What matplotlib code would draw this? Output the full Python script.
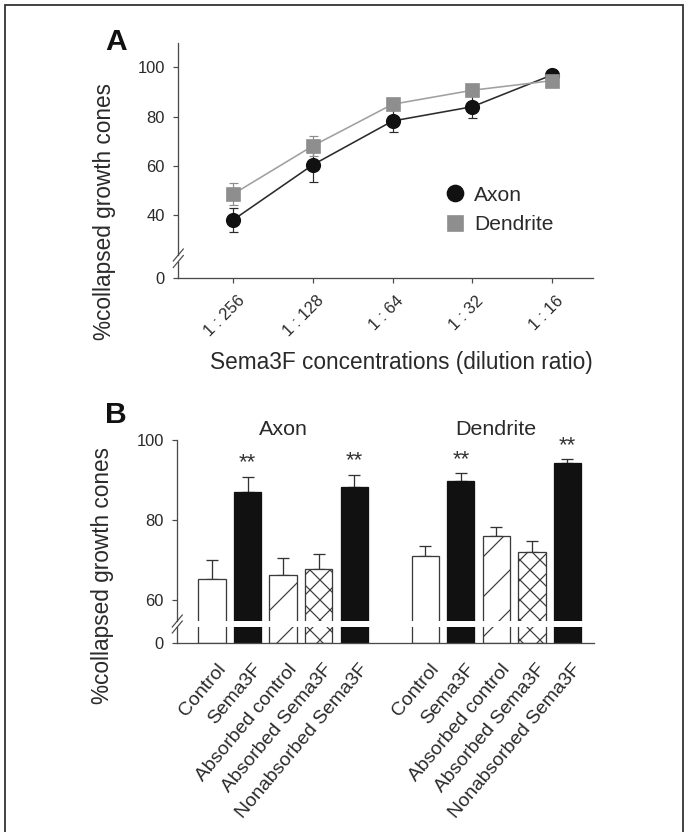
import matplotlib
matplotlib.use('Agg')
import matplotlib.pyplot as plt
import matplotlib.transforms as mtransforms
from matplotlib.lines import Line2D
from matplotlib.patches import Rectangle
import numpy as np

# panel A: collapse vs Sema3F dilution
dilutions = ['1 : 256', '1 : 128', '1 : 64', '1 : 32', '1 : 16']
axon_mean = [38.0, 60.4, 78.2, 84.0, 96.9]
axon_err = [4.8, 7.0, 4.6, 4.7, 1.0]
dend_mean = [48.5, 68.1, 85.0, 90.7, 94.6]
dend_err = [4.4, 4.1, 2.0, 2.0, 1.0]

# panel B: absorption experiment
conditions = ['Control', 'Sema3F', 'Absorbed control', 'Absorbed Sema3F', 'Nonabsorbed Sema3F']
groups = ['Axon', 'Dendrite']
axon_bar = [65.25, 87.1, 66.25, 67.75, 88.2]
axon_bar_err = [4.65, 3.7, 4.35, 3.85, 3.05]
dend_bar = [71.0, 89.8, 76.1, 71.9, 94.2]
dend_bar_err = [2.6, 1.9, 2.15, 2.8, 1.0]
significant = [False, True, False, False, True]

DPI = 120
W, H = 687, 832


def pt(v):
    # pixels -> points
    return v * 72 / DPI


def fx(x):
    return x / W


def fy(y):
    return 1 - y / H


def add_ax(l, t, r, b):
    return fig.add_axes([fx(l), fy(b), (r - l) / W, (b - t) / H])


plt.rcParams['font.family'] = ['Liberation Sans', 'DejaVu Sans']
plt.rcParams['hatch.linewidth'] = pt(1.2)
TXT = '#2a2a2a'
SPINE = '#4a4a4a'

fig = plt.figure(figsize=(W / DPI, H / DPI), dpi=DPI)


def style_axes(ax, bottom):
    for s in ['top', 'right']:
        ax.spines[s].set_visible(False)
    if not bottom:
        ax.spines['bottom'].set_visible(False)
        ax.tick_params(axis='x', length=0, labelbottom=False)
    for s in ['left', 'bottom']:
        ax.spines[s].set_color(SPINE)
        ax.spines[s].set_linewidth(pt(1.3))
    ax.tick_params(axis='y', length=pt(5), width=pt(1.2), color=SPINE,
                   pad=pt(8.5), labelsize=pt(16.5), labelcolor=TXT)
    ax.patch.set_alpha(0)


def break_marks(xs, y1, y2):
    for yc in (y1, y2):
        fig.add_artist(Line2D([fx(xs - 5), fx(xs + 5)], [fy(yc + 6), fy(yc - 6)],
                              transform=fig.transFigure, color=SPINE, lw=pt(1.2)))


# ---------------- panel A ----------------
xa = np.arange(len(dilutions))
a_up = add_ax(178.3, 43.3, 593.3, 255)
a_lo = add_ax(178.3, 261.7, 593.3, 278.3)
for ax in (a_up, a_lo):
    ax.set_xlim(-0.69, 4.52)
a_up.set_ylim(23.7, 109.8)
a_lo.set_ylim(0, 6.75)
style_axes(a_up, False)
style_axes(a_lo, True)
a_up.set_yticks([40, 60, 80, 100])
a_lo.set_yticks([0])

a_up.errorbar(xa, axon_mean, yerr=axon_err, color='#2b2b2b', lw=pt(1.6),
              marker='o', ms=pt(13.5), mfc='#111111', mec='#111111',
              ecolor='#2b2b2b', elinewidth=pt(1.2), capsize=pt(4.5), capthick=pt(1.2),
              clip_on=False, zorder=3)
a_up.errorbar(xa, dend_mean, yerr=dend_err, color='#a0a0a0', lw=pt(1.6),
              marker='s', ms=pt(13), mfc='#8e8e8e', mec='#8e8e8e',
              ecolor='#8e8e8e', elinewidth=pt(1.2), capsize=pt(4.5), capthick=pt(1.2),
              clip_on=False, zorder=4)

a_lo.set_xticks(xa)
a_lo.set_xticklabels(dilutions, rotation=45, ha='right', va='center',
                     rotation_mode='anchor')
a_lo.tick_params(axis='x', length=pt(5), width=pt(1.2), color=SPINE,
                 pad=pt(15), labelsize=pt(16.5), labelcolor=TXT)
shift = mtransforms.ScaledTranslation(9 / DPI, 0, fig.dpi_scale_trans)
for lab in a_lo.get_xticklabels():
    lab.set_transform(lab.get_transform() + shift)

a_up.set_ylabel('%collapsed growth cones', fontsize=pt(22.6), color=TXT)
a_up.yaxis.set_label_coords(fx(116), fy(211.5), transform=fig.transFigure)
a_lo.set_xlabel('Sema3F concentrations (dilution ratio)', fontsize=pt(22.6),
                color=TXT, va='center')
a_lo.xaxis.set_label_coords(fx(401), fy(362), transform=fig.transFigure)

handles = [Line2D([], [], ls='none', marker='o', ms=pt(16), color='#111111'),
           Line2D([], [], ls='none', marker='s', ms=pt(15), color='#8e8e8e')]
leg = a_up.legend(handles, ['Axon', 'Dendrite'], loc='center left',
                  bbox_to_anchor=(fx(444.5), fy(210)), bbox_transform=fig.transFigure,
                  frameon=False, fontsize=pt(21), handlelength=1.0, handletextpad=0.4,
                  labelspacing=0.5, borderpad=0, borderaxespad=0)
for t in leg.get_texts():
    t.set_color(TXT)

break_marks(178.3, 255, 261.5)
fig.text(fx(105.7), fy(50), 'A', fontsize=pt(30), fontweight='bold', color='#111111',
         ha='left', va='baseline')

# ---------------- panel B ----------------
b_up = add_ax(177.3, 440, 594, 621)
b_lo = add_ax(177.3, 626.7, 594, 643.3)
for ax in (b_up, b_lo):
    ax.set_xlim(-0.98, 10.75)
b_up.set_ylim(54.75, 100)
b_lo.set_ylim(0, 4.15)
style_axes(b_up, False)
style_axes(b_lo, True)
b_up.set_yticks([60, 80, 100])
b_lo.set_yticks([0])

faces = ['white', '#111111', 'white', 'white', '#111111']
hatches = ['', '', '/', 'xx', '']
edges = ['#3a3a3a', '#111111', '#3a3a3a', '#3a3a3a', '#111111']

tick_pos, tick_lab = [], []
for g, (means, errs) in enumerate([(axon_bar, axon_bar_err), (dend_bar, dend_bar_err)]):
    pos = np.arange(len(conditions)) + 6 * g
    for ax in (b_up, b_lo):
        ax.bar(pos, means, width=0.77, color=faces, edgecolor=edges, hatch=hatches,
               linewidth=pt(1.3), zorder=2)
    b_up.errorbar(pos, means, yerr=[np.zeros(len(errs)), errs], fmt='none',
                  ecolor='#333333', elinewidth=pt(1.3), capsize=pt(5.8),
                  capthick=pt(1.3), zorder=1)
    for p, m, e, s in zip(pos, means, errs, significant):
        if s:
            b_up.text(p, m + e + 3.5, '**', ha='center', va='center',
                      fontsize=pt(22), color='#333333')
    b_up.text(pos.mean(), 101.25, groups[g], ha='center', va='baseline',
              fontsize=pt(21.5), color=TXT, clip_on=False)
    tick_pos += list(pos)
    tick_lab += conditions

b_lo.set_xticks(tick_pos)
b_lo.set_xticklabels(tick_lab, rotation=50, ha='right', va='center',
                     rotation_mode='anchor')
b_lo.tick_params(axis='x', length=0, pad=pt(23), labelsize=pt(19.4), labelcolor=TXT)
shift_b = mtransforms.ScaledTranslation(11 / DPI, 0, fig.dpi_scale_trans)
for lab in b_lo.get_xticklabels():
    lab.set_transform(lab.get_transform() + shift_b)

b_up.set_ylabel('%collapsed growth cones', fontsize=pt(22.6), color=TXT)
b_up.yaxis.set_label_coords(fx(114), fy(575), transform=fig.transFigure)

break_marks(177.3, 621, 627)
fig.text(fx(105.5), fy(423.3), 'B', fontsize=pt(30), fontweight='bold', color='#111111',
         ha='left', va='baseline')

# outer frame
fig.add_artist(Rectangle((fx(4.5), -0.02), fx(683) - fx(4.5), fy(5.5) + 0.02,
                         transform=fig.transFigure, fill=False, ec='#333333', lw=pt(1.8)))

fig.savefig('out.png', dpi=DPI)
